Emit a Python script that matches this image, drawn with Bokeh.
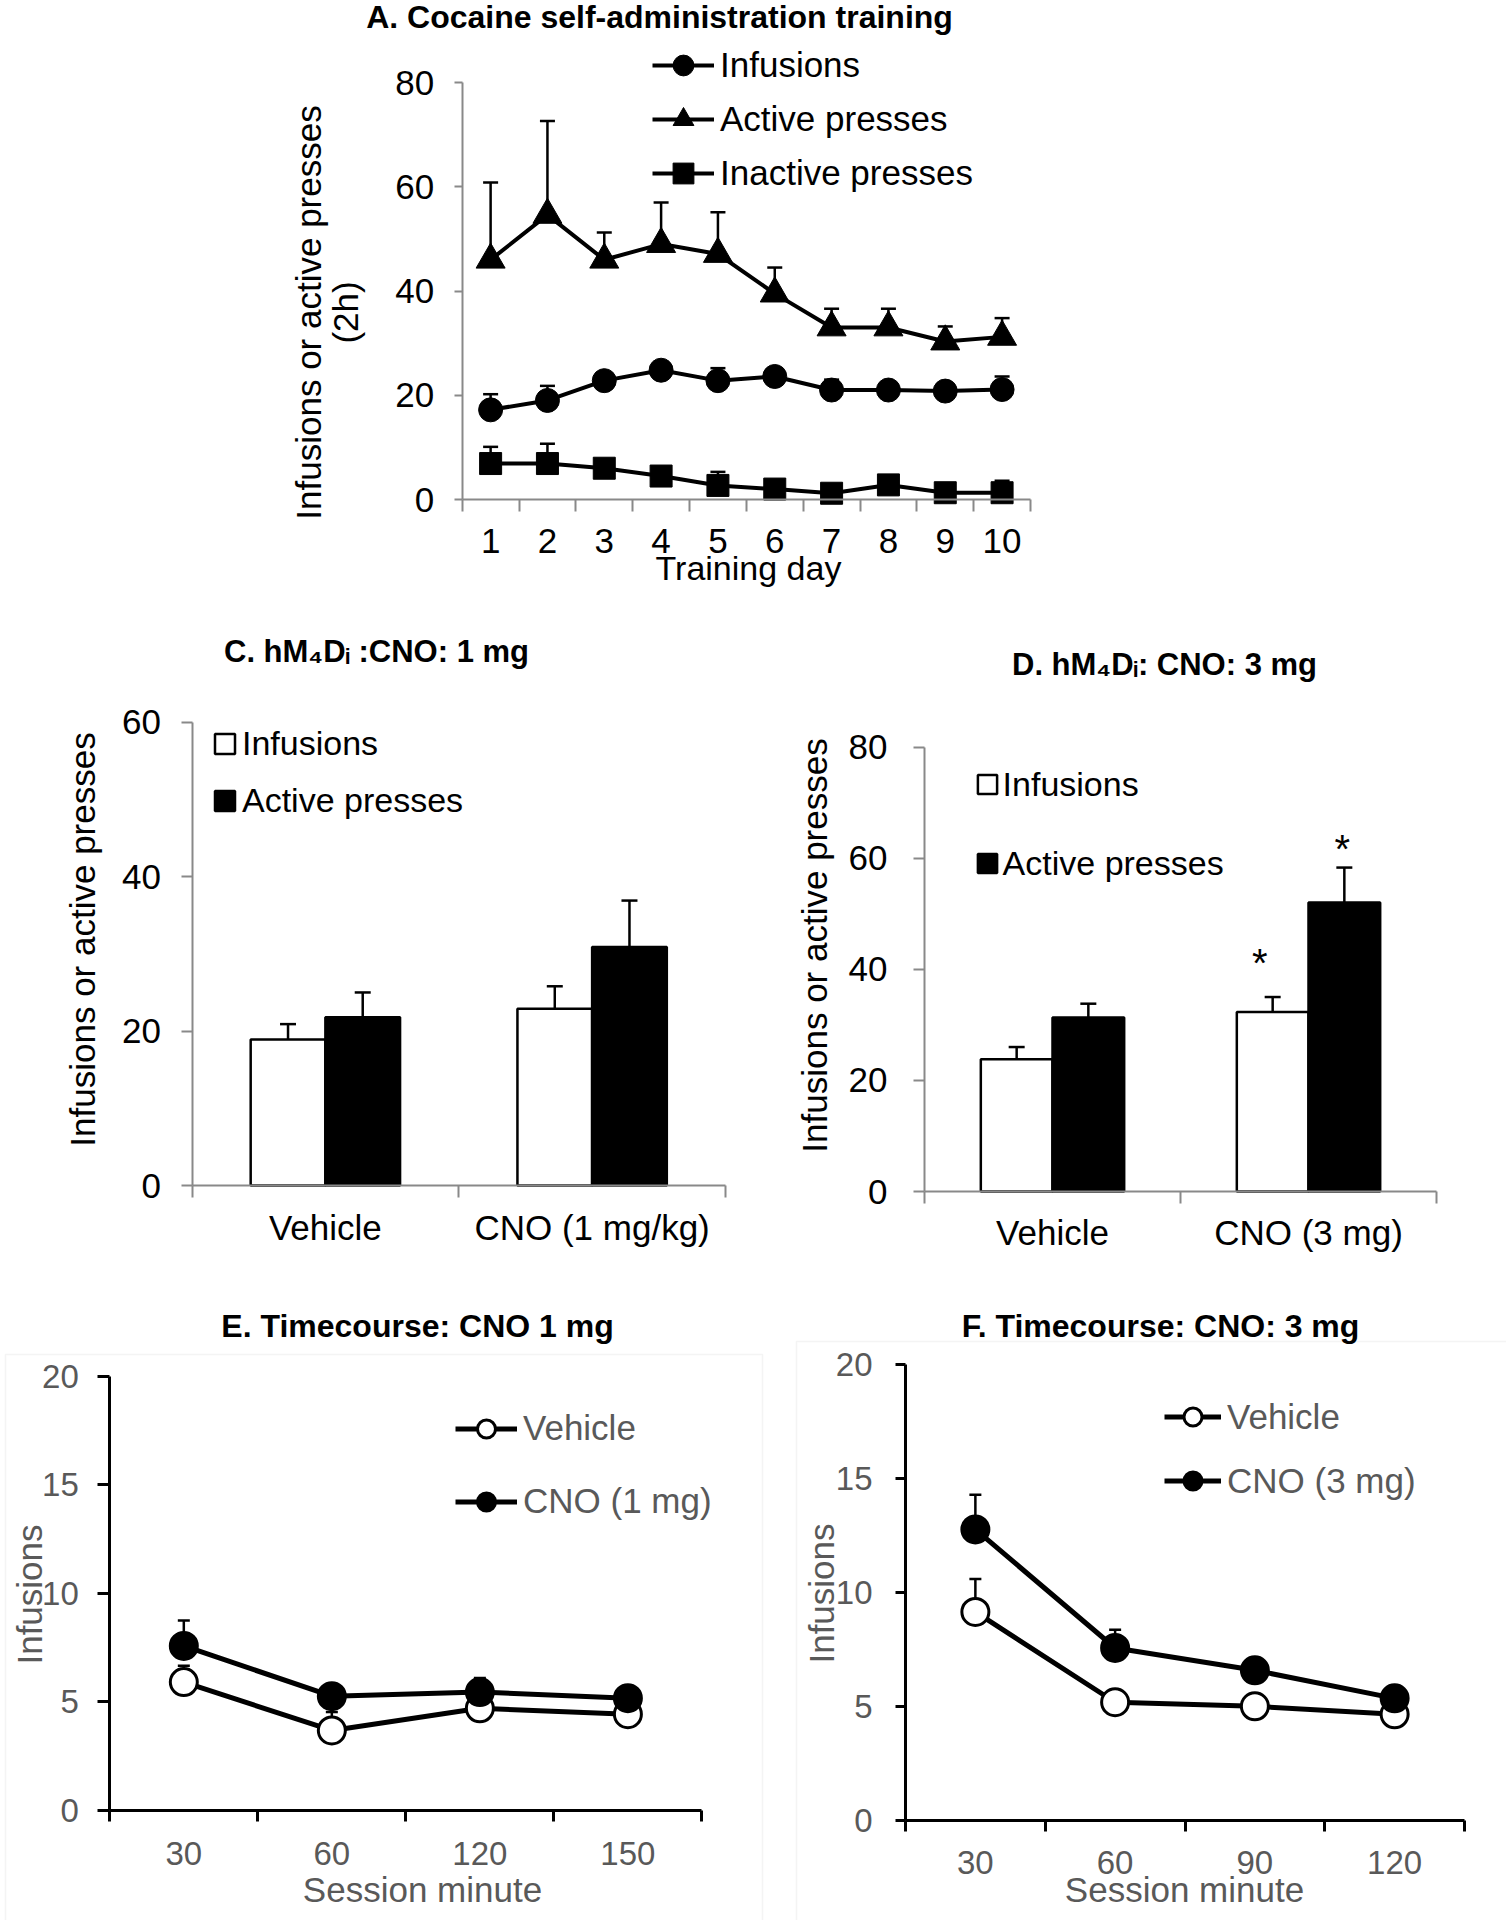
import math
from bokeh.plotting import figure
from bokeh.models import (ColumnDataSource, FixedTicker, Label, Legend, LegendItem,
                          Whisker, TeeHead, BoxAnnotation, Range1d)
from bokeh.layouts import column, row
from bokeh.embed import file_html
from bokeh.resources import INLINE
from bokeh.core.properties import value

FONT = "Liberation Sans"
AXIS_GRAY = "#898989"
TEXT_GRAY = "#595959"

# ---------------- data ----------------
# A. Cocaine self-administration training
days = [1, 2, 3, 4, 5, 6, 7, 8, 9, 10]
inf_A = [17.2, 19.0, 22.8, 24.8, 22.8, 23.6, 21.0, 21.0, 20.8, 21.1]
inf_A_err = [3.0, 2.8, 1.4, 0.7, 2.4, 0.8, 2.0, 0.8, 0.7, 2.5]
act_A = [46.0, 54.6, 46.0, 49.0, 47.1, 39.5, 33.0, 33.0, 30.3, 31.2]
act_A_err = [14.8, 18.0, 5.2, 8.0, 8.0, 5.0, 3.6, 3.6, 2.9, 3.6]
inact_A = [6.9, 6.9, 6.0, 4.5, 2.7, 2.0, 1.2, 2.8, 1.3, 1.3]
inact_A_err = [3.2, 3.8, 0.7, 0.8, 2.6, 0.7, 0.5, 1.0, 0.5, 2.3]

# C. hM4Di: CNO 1 mg
cats_C = ["Vehicle", "CNO (1 mg/kg)"]
inf_C = [18.9, 22.9]
inf_C_err = [2.0, 2.9]
act_C = [21.8, 30.9]
act_C_err = [3.2, 6.0]

# D. hM4Di: CNO 3 mg
cats_D = ["Vehicle", "CNO (3 mg)"]
inf_D = [23.8, 32.3]
inf_D_err = [2.2, 2.7]
act_D = [31.3, 52.0]
act_D_err = [2.5, 6.3]
star_D_y = [42.7, 63.2]          # asterisks over CNO (3 mg) infusions / active presses

# E. Timecourse: CNO 1 mg
mins_E = ["30", "60", "120", "150"]
veh_E = [5.9, 3.67, 4.69, 4.42]
veh_E_err = [0.75, 0.85, 0.35, 0.3]
cno_E = [7.57, 5.25, 5.44, 5.16]
cno_E_err = [1.17, 0.2, 0.65, 0.25]

# F. Timecourse: CNO 3 mg
mins_F = ["30", "60", "90", "120"]
veh_F = [9.16, 5.2, 5.02, 4.67]
veh_F_err = [1.44, 0.35, 0.35, 0.25]
cno_F = [12.78, 7.58, 6.6, 5.37]
cno_F_err = [1.52, 0.8, 0.35, 0.3]


# ---------------- helpers ----------------
class Panel:
    """A figure whose frame fills the whole canvas; the axes sit at fixed data
    locations so that titles, labels and legends all live inside the frame."""

    def __init__(self, fx0, fy0, W, H, xa, pxa, xb, pxb, ya, pya, yb, pyb):
        self.fx0, self.fy0, self.W, self.H = fx0, fy0, W, H
        sx = (xb - xa) / (pxb - pxa)
        x_start = xa - (pxa - fx0) * sx
        sy = (yb - ya) / (pya - pyb)
        y_start = ya - (fy0 + H - pya) * sy
        p = figure(width=W, height=H,
                   x_range=Range1d(x_start, x_start + W * sx),
                   y_range=Range1d(y_start, y_start + H * sy),
                   output_backend="svg", toolbar_location=None, title=None,
                   min_border=0)
        p.xgrid.visible = False
        p.ygrid.visible = False
        p.outline_line_color = None
        p.xaxis.fixed_location = ya
        p.yaxis.fixed_location = xa
        p.xaxis.bounds = (xa, xb)
        p.yaxis.bounds = (ya, yb)
        self.p = p

    def sx(self, page_x):
        return page_x - self.fx0

    def sy(self, page_y):
        return self.fy0 + self.H - page_y


def style_axes(p, xticks, xlabels, yticks, axis_color, axis_width, text_color,
               xfont, yfont, x_tick_out, y_tick_out, x_standoff, y_standoff):
    minor = [t - 0.5 for t in xticks] + [xticks[-1] + 0.5]
    xa = p.xaxis[0]
    xa.ticker = FixedTicker(ticks=xticks, minor_ticks=minor)
    xa.major_label_overrides = {t: lab for t, lab in zip(xticks, xlabels)}
    xa.major_tick_line_color = None
    xa.major_tick_out = 0
    xa.major_tick_in = 0
    xa.minor_tick_line_color = axis_color
    xa.minor_tick_line_width = axis_width
    xa.minor_tick_out = x_tick_out
    xa.minor_tick_in = 0
    xa.axis_line_color = axis_color
    xa.axis_line_width = axis_width
    xa.major_label_text_font = FONT
    xa.major_label_text_font_size = f"{xfont}px"
    xa.major_label_text_color = text_color
    xa.major_label_standoff = x_standoff

    ya = p.yaxis[0]
    ya.ticker = FixedTicker(ticks=yticks)
    ya.minor_tick_line_color = None
    ya.major_tick_line_color = axis_color
    ya.major_tick_line_width = axis_width
    ya.major_tick_out = y_tick_out
    ya.major_tick_in = 0
    ya.axis_line_color = axis_color
    ya.axis_line_width = axis_width
    ya.major_label_text_font = FONT
    ya.major_label_text_font_size = f"{yfont}px"
    ya.major_label_text_color = text_color
    ya.major_label_standoff = y_standoff


def add_text(P, text, page_x, page_y, size, color="black", bold=False, angle=0.0):
    P.p.add_layout(Label(x=P.sx(page_x), y=P.sy(page_y), x_units="screen", y_units="screen",
                         text=text, text_font=FONT, text_font_size=f"{size}px",
                         text_color=color, text_font_style="bold" if bold else "normal",
                         text_align="center", text_baseline="middle", angle=angle))


def add_legend(P, items, page_left, page_bottom, gw, gh, spacing, standoff, size, color):
    leg = Legend(items=[LegendItem(label=lab, renderers=rs) for lab, rs in items],
                 location=(P.sx(page_left), P.sy(page_bottom)), orientation="vertical",
                 glyph_width=gw, glyph_height=gh, spacing=spacing,
                 label_standoff=standoff, padding=0, margin=0,
                 border_line_color=None, background_fill_alpha=0,
                 label_text_font=FONT, label_text_font_size=f"{size}px",
                 label_text_color=color)
    P.p.add_layout(leg)


def add_border(P, left, right, top, bottom):
    P.p.add_layout(BoxAnnotation(left=P.sx(left), right=P.sx(right),
                                 top=P.sy(top), bottom=P.sy(bottom),
                                 left_units="screen", right_units="screen",
                                 top_units="screen", bottom_units="screen",
                                 fill_alpha=0, line_color="#d9d9d9", line_width=1.5))


def whisker(p, src, base, lower, upper, width, head):
    p.add_layout(Whisker(source=src, base=base, lower=lower, upper=upper,
                         line_color="black", line_width=width, level="underlay",
                         upper_head=TeeHead(size=head, line_color="black", line_width=width),
                         lower_head=None))


# ---------------- Panel A ----------------
A = Panel(0, 0, 1506, 623, 0.5, 461.7, 10.5, 1030, 0, 499, 80, 82)
pA = A.p
style_axes(pA, days, [str(d) for d in days], [0, 20, 40, 60, 80], AXIS_GRAY, 2,
           "black", 35, 35, 12, 8, 17, 20)

legend_items_A = []
for name, vals, errs, marker, size in (("Infusions", inf_A, inf_A_err, "circle", 24),
                                       ("Active presses", act_A, act_A_err, "triangle", 29),
                                       ("Inactive presses", inact_A, inact_A_err, "square", 22)):
    src = ColumnDataSource(dict(x=days, y=vals, top=[v + e for v, e in zip(vals, errs)]))
    whisker(pA, src, "x", "y", "top", 2.5, 15)
    r_line = pA.line("x", "y", source=src, line_color="black", line_width=4)
    r_mark = pA.scatter("x", "y", source=src, marker=marker, size=size,
                        fill_color="black", line_color="black")
    legend_items_A.append((name, [r_line, r_mark]))

add_legend(A, legend_items_A, 652, 198.5, 62, 52, 2, 6, 35, "black")
add_text(A, "A. Cocaine self-administration training", 659, 16, 32, bold=True)
add_text(A, "Infusions or active presses", 308, 312, 35, angle=math.pi / 2)
add_text(A, "(2h)", 345, 312, 35, angle=math.pi / 2)
add_text(A, "Training day", 748, 567.5, 34)


# ---------------- Panels C & D (bars) ----------------
BAR_W = 0.28
OFF = 0.14


def bar_panel(P, ymax_ticks, cats, inf, inf_err, act, act_err, x_standoff, y_standoff):
    p = P.p
    pos = list(range(1, len(cats) + 1))
    style_axes(p, pos, cats, ymax_ticks, AXIS_GRAY, 2, "black", 35, 35, 12, 11,
               x_standoff, y_standoff)
    renderers = []
    for vals, errs, fill, shift in ((inf, inf_err, "white", -OFF), (act, act_err, "black", OFF)):
        src = ColumnDataSource(dict(x=[x + shift for x in pos], top=vals,
                                    up=[v + e for v, e in zip(vals, errs)]))
        whisker(p, src, "x", "top", "up", 2.5, 16)
        r = p.vbar(x="x", top="top", bottom=0, width=BAR_W, source=src,
                   fill_color=fill, line_color="black", line_width=2.5)
        renderers.append(r)
    return pos, renderers


C = Panel(0, 623, 753, 650, 0.5, 191.5, 2.5, 725, 0, 1185, 60, 721.7)
posC, rC = bar_panel(C, [0, 20, 40, 60], cats_C, inf_C, inf_C_err, act_C, act_C_err, 10, 20)
add_legend(C, [("Infusions", [rC[0]]), ("Active presses", [rC[1]])],
           212, 819.5, 25, 25, 18, 5, 34, "black")
add_text(C, "C. hM\u2084D\u1d62 :CNO: 1 mg", 376, 651, 31, bold=True)
add_text(C, "Infusions or active presses", 82, 939, 35, angle=math.pi / 2)

D = Panel(753, 623, 753, 650, 0.5, 924, 2.5, 1436, 0, 1191, 80, 746.5)
posD, rD = bar_panel(D, [0, 20, 40, 60, 80], cats_D, inf_D, inf_D_err, act_D, act_D_err, 9, 26)
add_legend(D, [("Infusions", [rD[0]]), ("Active presses", [rD[1]])],
           974.6, 882.5, 24, 24, 40, 4, 34, "black")
add_text(D, "D. hM\u2084D\u1d62: CNO: 3 mg", 1164, 664, 31, bold=True)
add_text(D, "Infusions or active presses", 814, 945, 35, angle=math.pi / 2)
star_src = ColumnDataSource(dict(x=[posD[-1] - OFF, posD[-1] + OFF], y=star_D_y,
                                 t=["*", "*"], dx=[-13, -2]))
D.p.text("x", "y", text="t", source=star_src, text_font=value(FONT),
         text_font_size=value("40px"), text_align="center", text_baseline="middle",
         text_color="black", x_offset="dx", y_offset=9)


# ---------------- Panels E & F (time course) ----------------
def time_panel(P, cats, veh, veh_err, cno, cno_err, x_standoff, y_standoff, y_tick_out):
    p = P.p
    pos = list(range(1, len(cats) + 1))
    style_axes(p, pos, cats, [0, 5, 10, 15, 20], "black", 3, TEXT_GRAY, 33, 33, 11,
               y_tick_out, x_standoff, y_standoff)
    rends = []
    for vals, errs, fill in ((veh, veh_err, "white"), (cno, cno_err, "black")):
        src = ColumnDataSource(dict(x=pos, y=vals, top=[v + e for v, e in zip(vals, errs)]))
        whisker(p, src, "x", "y", "top", 2.5, 12)
        rl = p.line("x", "y", source=src, line_color="black", line_width=5)
        rm = p.scatter("x", "y", source=src, marker="circle", size=27,
                       fill_color=fill, line_color="black", line_width=3)
        rends.append([rl, rm])
    return rends


E = Panel(0, 1273, 768, 647, 0.5, 109.3, 4.5, 701.4, 0, 1809.5, 20, 1376)
rE = time_panel(E, mins_E, veh_E, veh_E_err, cno_E, cno_E_err, 21, 19, 12)
add_border(E, 5, 762, 1354, 1935)
add_legend(E, [("Vehicle", rE[0]), ("CNO (1 mg)", rE[1])], 455, 1523.5, 62, 45, 28, 6, 35,
           TEXT_GRAY)
add_text(E, "E. Timecourse: CNO 1 mg", 417, 1325, 32, bold=True)
add_text(E, "Infusions", 29, 1594, 35, color=TEXT_GRAY, angle=math.pi / 2)
add_text(E, "Session minute", 422, 1888.5, 35, color=TEXT_GRAY)

F = Panel(768, 1273, 738, 647, 0.5, 905, 4.5, 1464, 0, 1820.3, 20, 1364.3)
rF = time_panel(F, mins_F, veh_F, veh_F_err, cno_F, cno_F_err, 19, 23, 10)
add_border(F, 796, 1515, 1341, 1935)
add_legend(F, [("Vehicle", rF[0]), ("CNO (3 mg)", rF[1])], 1164, 1503, 57, 45, 19, 6, 35,
           TEXT_GRAY)
add_text(F, "F. Timecourse: CNO: 3 mg", 1160, 1325, 32, bold=True)
add_text(F, "Infusions", 820.5, 1593, 35, color=TEXT_GRAY, angle=math.pi / 2)
add_text(F, "Session minute", 1184, 1888.5, 35, color=TEXT_GRAY)

layout = column(pA, row(C.p, D.p), row(E.p, F.p))
open("out.html", "w").write(file_html(layout, INLINE))
